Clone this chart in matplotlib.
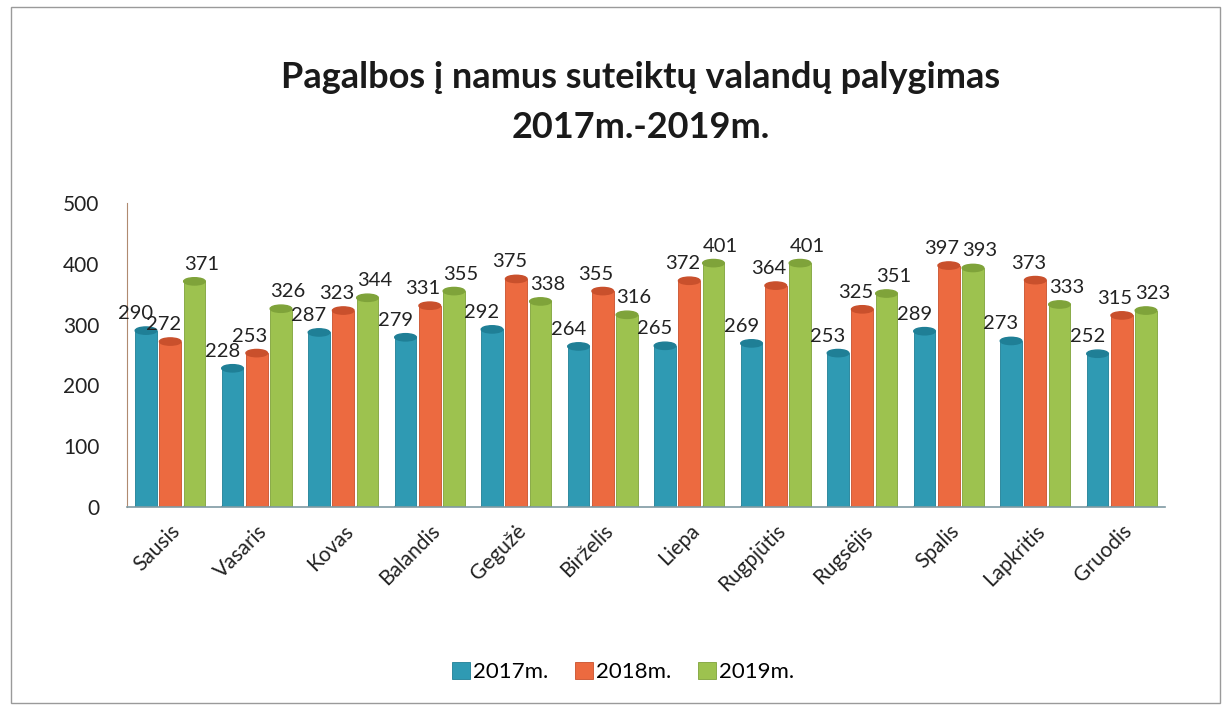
import matplotlib
matplotlib.use("Agg")
import matplotlib.pyplot as plt
import numpy as np
from matplotlib.patches import Ellipse, Rectangle

months = ["Sausis", "Vasaris", "Kovas", "Balandis", "Gegužė", "Birželis",
          "Liepa", "Rugpjūtis", "Rugsėjis", "Spalis", "Lapkritis", "Gruodis"]
series_names = ["2017m.", "2018m.", "2019m."]
v2017 = [290, 228, 287, 279, 292, 264, 265, 269, 253, 289, 273, 252]
v2018 = [272, 253, 323, 331, 375, 355, 372, 364, 325, 397, 373, 315]
v2019 = [371, 326, 344, 355, 338, 316, 401, 401, 351, 393, 333, 323]
series = [v2017, v2018, v2019]
colors = ["#2f9ab3", "#ec6a40", "#9dc24f"]
cap_colors = ["#1f7f96", "#c9502c", "#7fa33a"]

plt.rcParams['font.family'] = ['Lato', 'DejaVu Sans']

fig = plt.figure(figsize=(12.27, 7.07), dpi=100)
ax = fig.add_axes([0.1035, 0.283, 0.846, 0.43])

x = np.arange(len(months))
w = 0.25
step = 0.28
offsets = [-step, 0, step]
label_shift = [-0.12, -0.08, 0.08]
for vals, off, c, cc, name, ls in zip(series, offsets, colors, cap_colors, series_names, label_shift):
    xs = x + off
    ax.bar(xs, vals, width=w, color=c, edgecolor=cc, linewidth=0.6, label=name, zorder=2)
    for xi, v in zip(xs, vals):
        ax.add_patch(Ellipse((xi, v), w, 12, facecolor=cc, edgecolor=cc, zorder=3))
        ax.add_patch(Ellipse((xi, 0), w, 10, facecolor=c, edgecolor=cc, linewidth=0.6, zorder=1.9))
        ax.text(xi + ls, v + 14, str(v), ha="center", va="bottom", fontsize=14.5,
                color="#222222", zorder=4)

ax.set_xlim(-0.5, len(months) - 0.5)
ax.set_ylim(0, 500)
ax.set_yticks([0, 100, 200, 300, 400, 500])
ax.tick_params(axis="y", labelsize=15, length=0, pad=20, colors="#222222")
ax.set_xticks(x)
ax.set_xticklabels(months, rotation=45, ha="right", rotation_mode="anchor", fontsize=15, color="#222222")
ax.tick_params(axis="x", length=0, pad=10)
for s in ["top", "right"]:
    ax.spines[s].set_visible(False)
ax.spines["left"].set_color("#b08a70")
ax.spines["left"].set_linewidth(0.8)
ax.spines["bottom"].set_color("#7f9aa3")
ax.spines["bottom"].set_linewidth(1.2)
ax.patch.set_alpha(0)

fig.text(0.522, 0.89, "Pagalbos į namus suteiktų valandų palygimas", ha="center", va="center",
         fontsize=26, fontweight="bold", color="#1a1a1a")
fig.text(0.522, 0.82, "2017m.-2019m.", ha="center", va="center",
         fontsize=26, fontweight="bold", color="#1a1a1a")

handles, labels = ax.get_legend_handles_labels()
fig.legend(handles, labels, loc="center", bbox_to_anchor=(0.508, 0.05), ncol=3, frameon=False,
           fontsize=16, handlelength=0.8, handleheight=0.8, handletextpad=0.15, columnspacing=1.2)

fig.add_artist(Rectangle((0.009, 0.005), 0.985, 0.985, transform=fig.transFigure,
                         fill=False, edgecolor="#9a9a9a", linewidth=1.0))

fig.savefig("out.png", dpi=100)
